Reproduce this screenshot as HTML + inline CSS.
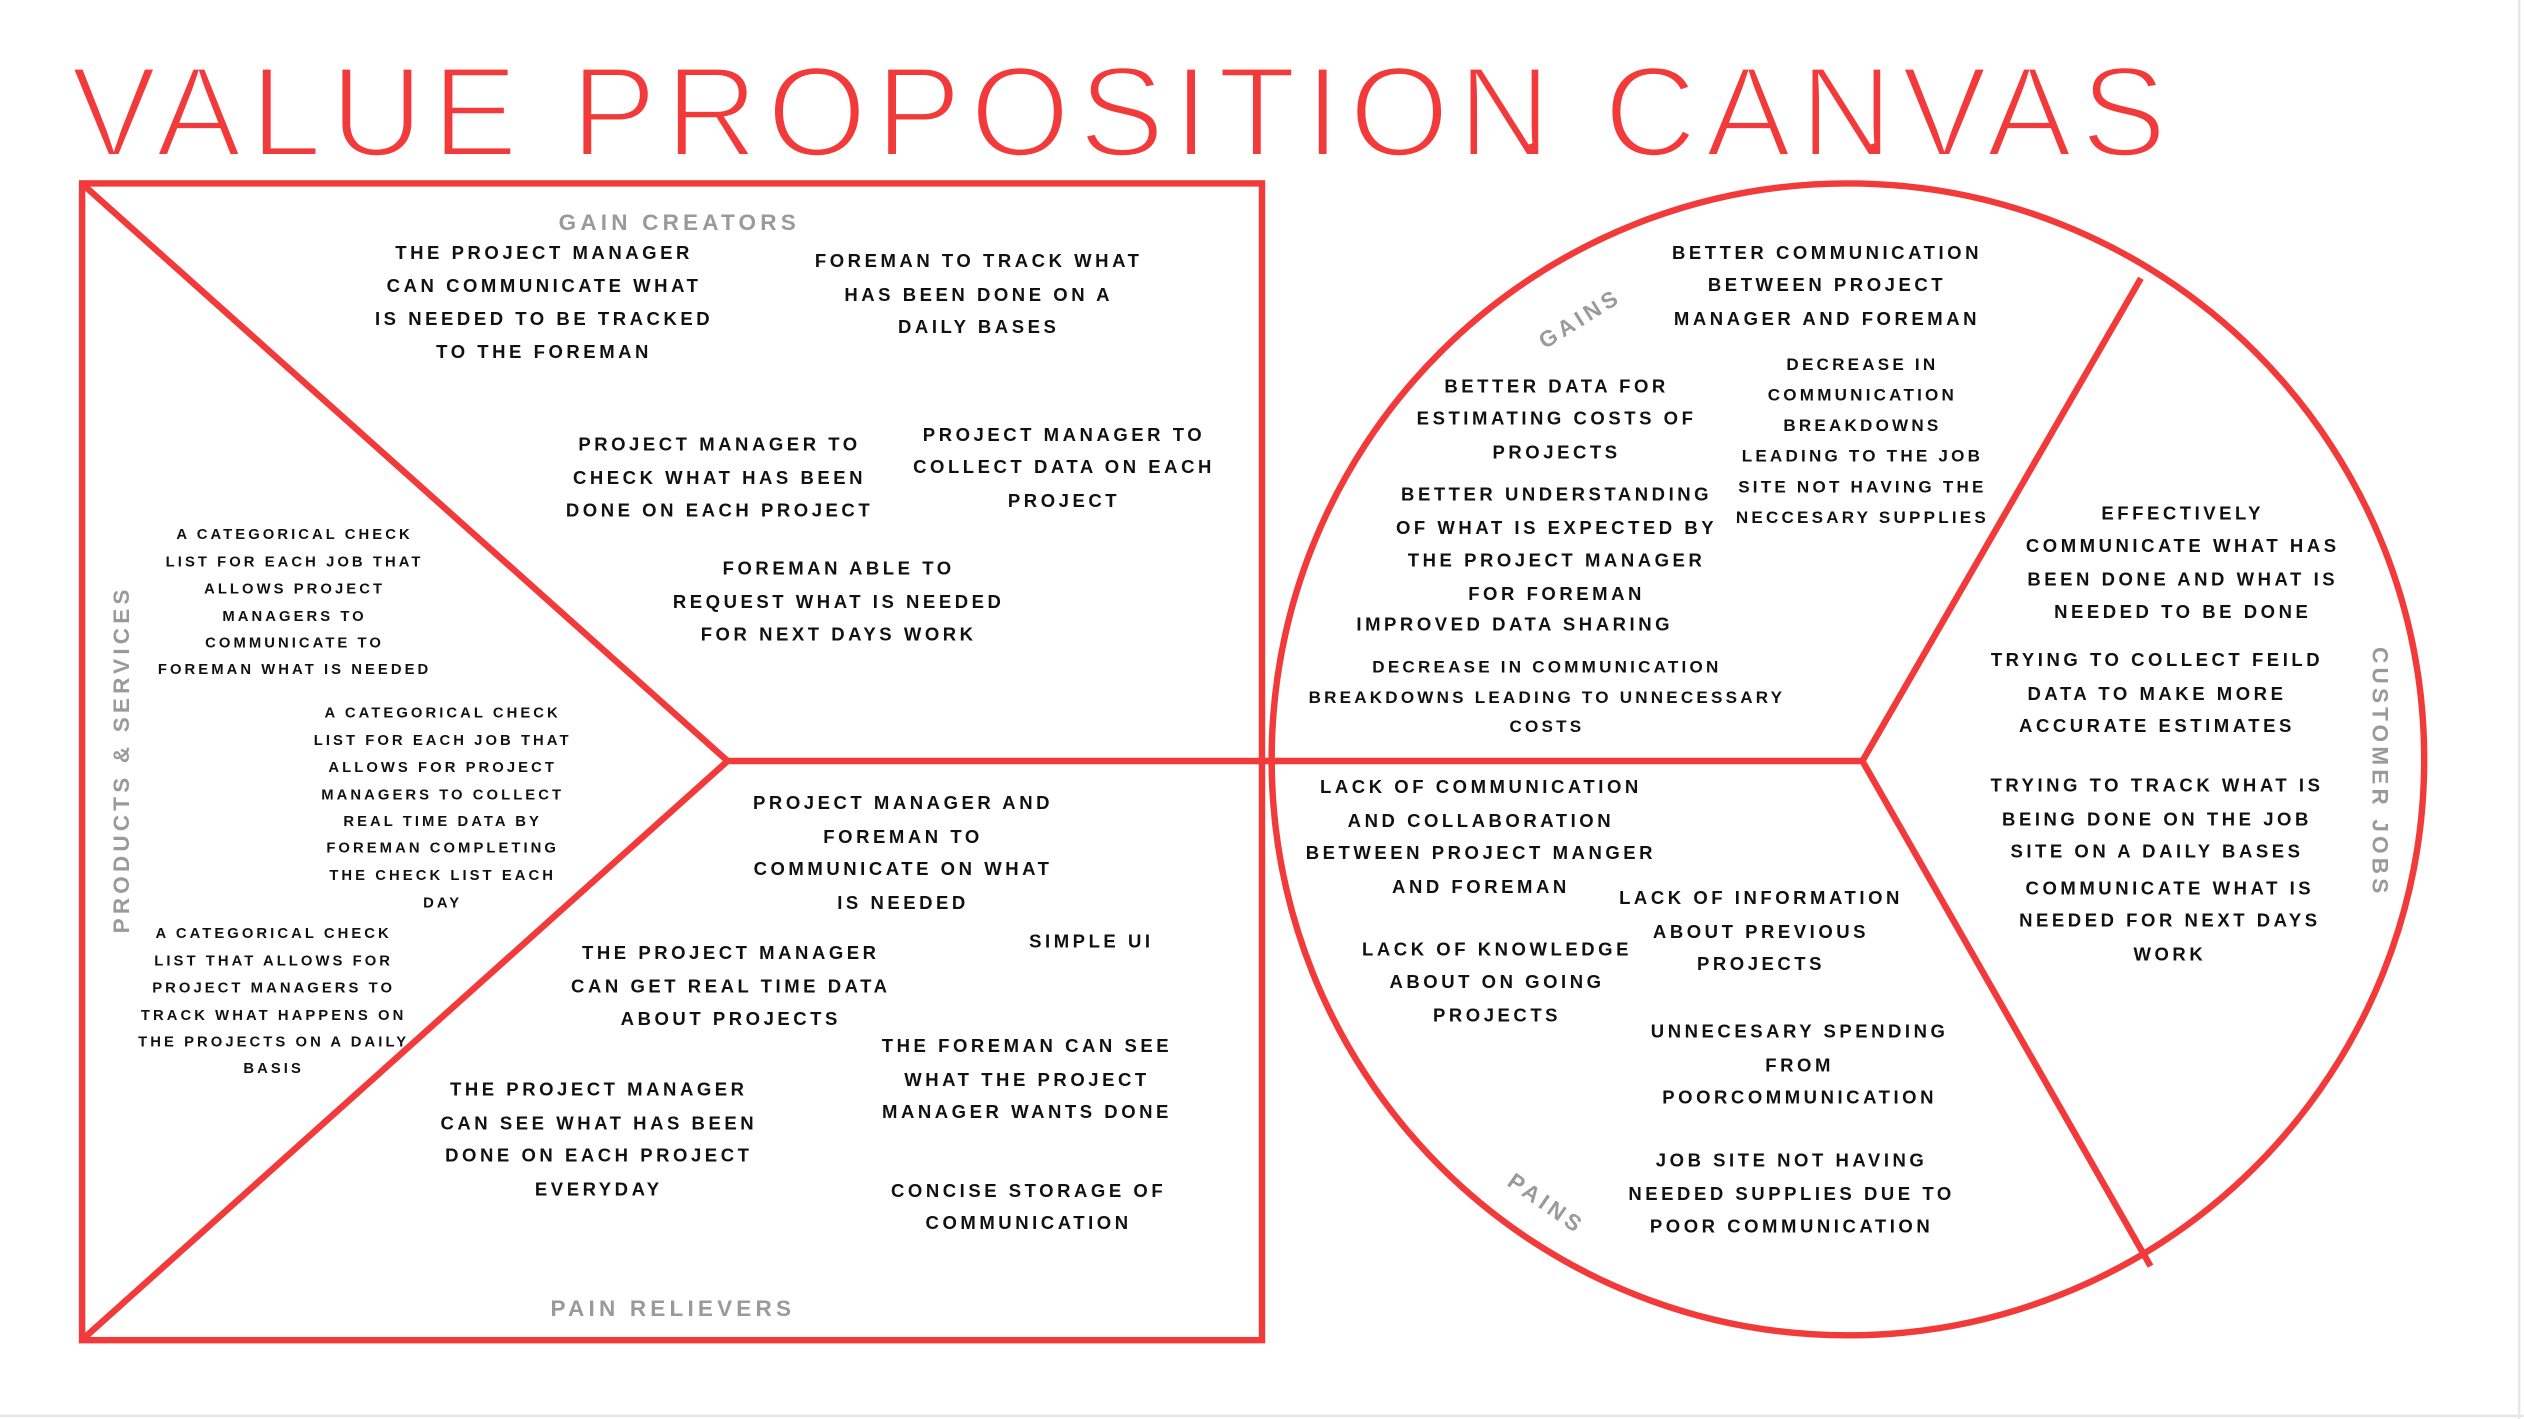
<!DOCTYPE html>
<html><head><meta charset="utf-8"><style>
html,body{margin:0;padding:0;background:#fff;width:2524px;height:1419px;overflow:hidden}
svg{display:block}
.t{font-family:"Liberation Sans",sans-serif;font-weight:bold;font-size:11.5px;letter-spacing:2.2px;fill:#111;text-anchor:middle}
.s{font-size:9.2px;letter-spacing:1.9px}
.m{font-size:10.6px;letter-spacing:2px}
.g{font-family:"Liberation Sans",sans-serif;font-weight:bold;fill:#9a9a9a;font-size:14px;letter-spacing:2.6px;text-anchor:middle}
</style></head><body>
<svg width="2524" height="1419" viewBox="0 0 1568 882" preserveAspectRatio="none">
<rect width="1568" height="882" fill="#fff"/>
<line x1="1565" y1="0" x2="1565" y2="882" stroke="#e6e6e6" stroke-width="1.5"/>
<line x1="0" y1="880" x2="1568" y2="880" stroke="#e6e6e6" stroke-width="1.5"/>
<text x="44" y="97" font-family="Liberation Sans, sans-serif" font-size="80" fill="#f23a3a" stroke="#fff" stroke-width="2.6" textLength="1302" lengthAdjust="spacing">VALUE PROPOSITION CANVAS</text>
<g stroke="#f23a3a" stroke-width="4" fill="none">
<rect x="51" y="114" width="733" height="719"/>
<line x1="53" y1="116" x2="452" y2="473"/>
<line x1="452" y1="473" x2="53" y2="831"/>
<line x1="452" y1="473" x2="1157" y2="473"/>
<circle cx="1148" cy="472" r="358"/>
<line x1="1157" y1="473" x2="1330" y2="173"/>
<line x1="1157" y1="473" x2="1336" y2="787"/>
</g>
<text class="g" x="422" y="143">GAIN CREATORS</text>
<text class="g" x="418" y="818">PAIN RELIEVERS</text>
<text class="g" transform="translate(80,472) rotate(-90)">PRODUCTS &amp; SERVICES</text>
<text class="g" transform="translate(984,202) rotate(-32)">GAINS</text>
<text class="g" transform="translate(958,752) rotate(35)">PAINS</text>
<text class="g" transform="translate(1474,480) rotate(90)">CUSTOMER JOBS</text>

<text class="t"><tspan x="338" y="161">THE PROJECT MANAGER</tspan><tspan x="338" y="181.5">CAN COMMUNICATE WHAT</tspan><tspan x="338" y="202">IS NEEDED TO BE TRACKED</tspan><tspan x="338" y="222.5">TO THE FOREMAN</tspan></text>
<text class="t"><tspan x="608" y="166">FOREMAN TO TRACK WHAT</tspan><tspan x="608" y="187">HAS BEEN DONE ON A</tspan><tspan x="608" y="207">DAILY BASES</tspan></text>
<text class="t"><tspan x="447" y="280">PROJECT MANAGER TO</tspan><tspan x="447" y="301">CHECK WHAT HAS BEEN</tspan><tspan x="447" y="321">DONE ON EACH PROJECT</tspan></text>
<text class="t"><tspan x="661" y="274">PROJECT MANAGER TO</tspan><tspan x="661" y="294">COLLECT DATA ON EACH</tspan><tspan x="661" y="315">PROJECT</tspan></text>
<text class="t"><tspan x="521" y="357">FOREMAN ABLE TO</tspan><tspan x="521" y="378">REQUEST WHAT IS NEEDED</tspan><tspan x="521" y="398">FOR NEXT DAYS WORK</tspan></text>

<text class="t s"><tspan x="183" y="335">A CATEGORICAL CHECK</tspan><tspan x="183" y="352">LIST FOR EACH JOB THAT</tspan><tspan x="183" y="369">ALLOWS PROJECT</tspan><tspan x="183" y="386">MANAGERS TO</tspan><tspan x="183" y="402.5">COMMUNICATE TO</tspan><tspan x="183" y="419">FOREMAN WHAT IS NEEDED</tspan></text>
<text class="t s"><tspan x="275" y="446">A CATEGORICAL CHECK</tspan><tspan x="275" y="463">LIST FOR EACH JOB THAT</tspan><tspan x="275" y="480">ALLOWS FOR PROJECT</tspan><tspan x="275" y="497">MANAGERS TO COLLECT</tspan><tspan x="275" y="513.5">REAL TIME DATA BY</tspan><tspan x="275" y="530">FOREMAN COMPLETING</tspan><tspan x="275" y="547">THE CHECK LIST EACH</tspan><tspan x="275" y="564">DAY</tspan></text>
<text class="t s"><tspan x="170" y="583">A CATEGORICAL CHECK</tspan><tspan x="170" y="600">LIST THAT ALLOWS FOR</tspan><tspan x="170" y="617">PROJECT MANAGERS TO</tspan><tspan x="170" y="634">TRACK WHAT HAPPENS ON</tspan><tspan x="170" y="650.5">THE PROJECTS ON A DAILY</tspan><tspan x="170" y="667">BASIS</tspan></text>

<text class="t"><tspan x="561" y="503">PROJECT MANAGER  AND</tspan><tspan x="561" y="524">FOREMAN TO</tspan><tspan x="561" y="544">COMMUNICATE ON WHAT</tspan><tspan x="561" y="565">IS NEEDED</tspan></text>
<text class="t"><tspan x="678" y="589">SIMPLE UI</tspan></text>
<text class="t"><tspan x="454" y="596">THE PROJECT MANAGER</tspan><tspan x="454" y="617">CAN GET REAL TIME DATA</tspan><tspan x="454" y="637">ABOUT PROJECTS</tspan></text>
<text class="t"><tspan x="638" y="654">THE FOREMAN CAN SEE</tspan><tspan x="638" y="675">WHAT THE PROJECT</tspan><tspan x="638" y="695">MANAGER WANTS DONE</tspan></text>
<text class="t"><tspan x="372" y="681">THE PROJECT MANAGER</tspan><tspan x="372" y="702">CAN SEE WHAT HAS BEEN</tspan><tspan x="372" y="722">DONE ON EACH PROJECT</tspan><tspan x="372" y="743">EVERYDAY</tspan></text>
<text class="t"><tspan x="639" y="744">CONCISE STORAGE OF</tspan><tspan x="639" y="764">COMMUNICATION</tspan></text>

<text class="t"><tspan x="1135" y="161">BETTER COMMUNICATION</tspan><tspan x="1135" y="181">BETWEEN PROJECT</tspan><tspan x="1135" y="202">MANAGER AND FOREMAN</tspan></text>
<text class="t"><tspan x="967" y="244">BETTER DATA FOR</tspan><tspan x="967" y="264">ESTIMATING COSTS OF</tspan><tspan x="967" y="285">PROJECTS</tspan></text>
<text class="t m"><tspan x="1157" y="230">DECREASE IN</tspan><tspan x="1157" y="249">COMMUNICATION</tspan><tspan x="1157" y="268">BREAKDOWNS</tspan><tspan x="1157" y="287">LEADING TO THE JOB</tspan><tspan x="1157" y="306">SITE NOT HAVING THE</tspan><tspan x="1157" y="325">NECCESARY SUPPLIES</tspan></text>
<text class="t"><tspan x="967" y="311">BETTER UNDERSTANDING</tspan><tspan x="967" y="332">OF WHAT IS EXPECTED BY</tspan><tspan x="967" y="352">THE PROJECT MANAGER</tspan><tspan x="967" y="373">FOR FOREMAN</tspan></text>
<text class="t"><tspan x="941" y="392">IMPROVED DATA SHARING</tspan></text>
<text class="t m"><tspan x="961" y="418">DECREASE IN COMMUNICATION</tspan><tspan x="961" y="437">BREAKDOWNS LEADING TO UNNECESSARY</tspan><tspan x="961" y="455">COSTS</tspan></text>

<text class="t"><tspan x="920" y="493">LACK OF COMMUNICATION</tspan><tspan x="920" y="514">AND COLLABORATION</tspan><tspan x="920" y="534">BETWEEN PROJECT MANGER</tspan><tspan x="920" y="555">AND FOREMAN</tspan></text>
<text class="t"><tspan x="1094" y="562">LACK OF INFORMATION</tspan><tspan x="1094" y="583">ABOUT PREVIOUS</tspan><tspan x="1094" y="603">PROJECTS</tspan></text>
<text class="t"><tspan x="930" y="594">LACK OF KNOWLEDGE</tspan><tspan x="930" y="614">ABOUT ON GOING</tspan><tspan x="930" y="635">PROJECTS</tspan></text>
<text class="t"><tspan x="1118" y="645">UNNECESARY SPENDING</tspan><tspan x="1118" y="666">FROM</tspan><tspan x="1118" y="686">POORCOMMUNICATION</tspan></text>
<text class="t"><tspan x="1113" y="725">JOB SITE NOT HAVING</tspan><tspan x="1113" y="746">NEEDED SUPPLIES DUE TO</tspan><tspan x="1113" y="766">POOR COMMUNICATION</tspan></text>

<text class="t"><tspan x="1356" y="323">EFFECTIVELY</tspan><tspan x="1356" y="343">COMMUNICATE WHAT HAS</tspan><tspan x="1356" y="364">BEEN DONE AND WHAT IS</tspan><tspan x="1356" y="384">NEEDED TO BE DONE</tspan></text>
<text class="t"><tspan x="1340" y="414">TRYING TO COLLECT FEILD</tspan><tspan x="1340" y="435">DATA TO MAKE MORE</tspan><tspan x="1340" y="455">ACCURATE ESTIMATES</tspan></text>
<text class="t"><tspan x="1340" y="492">TRYING TO TRACK WHAT IS</tspan><tspan x="1340" y="513">BEING DONE ON THE JOB</tspan><tspan x="1340" y="533">SITE ON A DAILY BASES</tspan></text>
<text class="t"><tspan x="1348" y="556">COMMUNICATE WHAT IS</tspan><tspan x="1348" y="576">NEEDED FOR NEXT DAYS</tspan><tspan x="1348" y="597">WORK</tspan></text>
</svg>
</body></html>
